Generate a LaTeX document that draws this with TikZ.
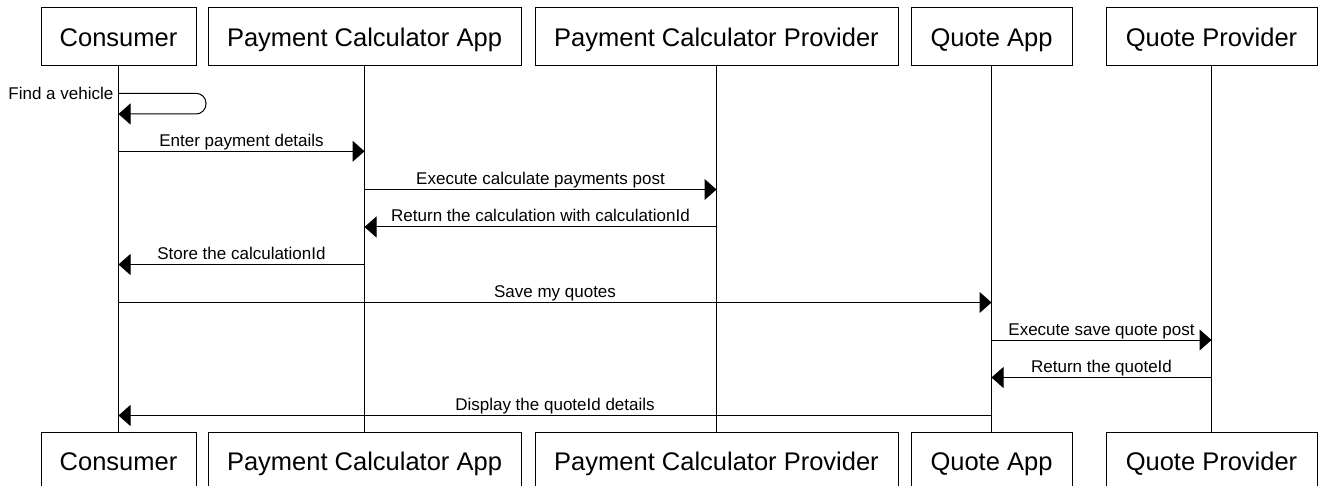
\documentclass[tikz,border=0pt]{standalone}
\usepackage{fontspec}
\setmainfont{Liberation Sans}
\usetikzlibrary{arrows.meta}
\tikzset{
  actor/.style={draw=black, line width=1pt, fill=white, minimum height=58pt, inner sep=0pt, text height=18.3pt, text depth=0pt, font=\fontsize{25.5}{30}\selectfont},
  life/.style={draw=black, line width=1pt},
  msg/.style={draw=black, line width=1pt, -{Triangle[length=12pt,width=21pt]}},
  lbl/.style={anchor=base, inner sep=0pt, yshift=5pt, font=\fontsize{17}{20}\selectfont},
}
\begin{document}
\begin{tikzpicture}[x=1pt,y=-1pt]
\useasboundingbox[fill=white] (0,0) rectangle (1319,486);
% top actors
\node[actor, minimum width=155pt] (cT) at (118.5,37) {Consumer};
\node[actor, minimum width=313pt] (aT) at (364.5,37) {Payment Calculator App};
\node[actor, minimum width=363pt] (pT) at (716.5,37) {Payment Calculator Provider};
\node[actor, minimum width=161pt] (qT) at (991.5,37) {Quote App};
\node[actor, minimum width=211pt] (rT) at (1211.5,37) {Quote Provider};
% bottom actors
\node[actor, minimum width=155pt] (cB) at (118.5,461) {Consumer};
\node[actor, minimum width=313pt] (aB) at (364.5,461) {Payment Calculator App};
\node[actor, minimum width=363pt] (pB) at (716.5,461) {Payment Calculator Provider};
\node[actor, minimum width=161pt] (qB) at (991.5,461) {Quote App};
\node[actor, minimum width=211pt] (rB) at (1211.5,461) {Quote Provider};
% lifelines
\draw[life] (cT.south) -- (cB.north);
\draw[life] (aT.south) -- (aB.north);
\draw[life] (pT.south) -- (pB.north);
\draw[life] (qT.south) -- (qB.north);
\draw[life] (rT.south) -- (rB.north);
% self message
\coordinate (loopA) at (cT.south |- 0,93.3);
\coordinate (loopB) at (cT.south |- 0,114);
\coordinate (loopR) at (206,93.3);
\draw[msg, rounded corners=10pt] (loopA) -- (loopR) -- (loopR |- loopB) -- (loopB);
\node[anchor=base east, inner sep=0pt, xshift=-5pt, yshift=-6.5pt, font=\fontsize{17}{20}\selectfont] at (loopA) {Find a vehicle};
% messages
\draw[msg] (cT.south |- 0,151.3) -- node[lbl] {Enter payment details} (aT.south |- 0,151.3);
\draw[msg] (aT.south |- 0,189.5) -- node[lbl] {Execute calculate payments post} (pT.south |- 0,189.5);
\draw[msg] (pT.south |- 0,227) -- node[lbl] {Return the calculation with calculationId} (aT.south |- 0,227);
\draw[msg] (aT.south |- 0,264.5) -- node[lbl] {Store the calculationId} (cT.south |- 0,264.5);
\draw[msg] (cT.south |- 0,302.5) -- node[lbl] {Save my quotes} (qT.south |- 0,302.5);
\draw[msg] (qT.south |- 0,340) -- node[lbl] {Execute save quote post} (rT.south |- 0,340);
\draw[msg] (rT.south |- 0,377.5) -- node[lbl] {Return the quoteId} (qT.south |- 0,377.5);
\draw[msg] (qT.south |- 0,415.5) -- node[lbl] {Display the quoteId details} (cT.south |- 0,415.5);
\end{tikzpicture}
\end{document}
